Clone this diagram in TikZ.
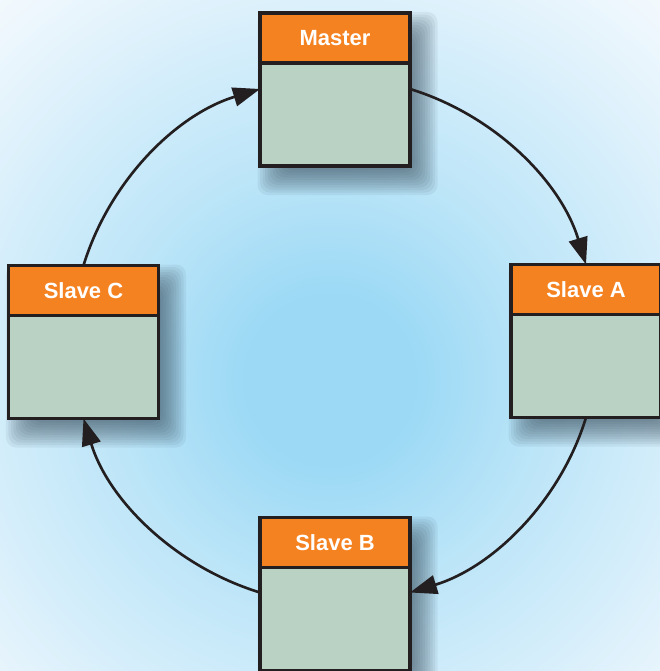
\documentclass[tikz,border=0pt]{standalone}
\usepackage{fontspec}
\setmainfont{Liberation Sans}
\usetikzlibrary{positioning,arrows.meta}

\definecolor{hdorange}{RGB}{245,130,32}
\definecolor{bodygreen}{RGB}{185,210,195}
\definecolor{edge}{RGB}{35,31,32}
\definecolor{shadowc}{RGB}{45,65,80}
\definecolor{skymid}{RGB}{155,217,245}
\definecolor{skylight}{RGB}{188,229,248}
\definecolor{skypale}{RGB}{216,239,251}
\definecolor{skyedge}{RGB}{238,247,253}

\pgfdeclareradialshading{glow}{\pgfpoint{0bp}{0bp}}{%
    color(0bp)=(skymid); color(5.4bp)=(skymid); color(14.3bp)=(skylight);
    color(23.8bp)=(skypale); color(31.3bp)=(skyedge); color(37.8bp)=(white);
    color(50bp)=(white)}

\pgfdeclarelayer{bg}
\pgfsetlayers{bg,main}

\begin{document}
\begin{tikzpicture}[
        box/.style={draw=edge, line width=2pt, minimum width=3cm, outer sep=0pt},
        head/.style={box, fill=hdorange, minimum height=1cm, text=white,
            font=\bfseries\fontsize{12.5}{15}\selectfont},
        body/.style={box, fill=bodygreen, minimum height=2.06cm, below=0pt of #1},
        link/.style={draw=edge, line width=1.5pt, -{Triangle[length=0.54cm,width=0.38cm]}},
        softshadow/.style={shadowc, opacity=0.07, rounded corners=0.2cm}
    ]
        \useasboundingbox (0,0) rectangle (13.2,-13.42);

        % the four units
        \node[head] (master-hd) at (6.7,-0.76) {Master};
        \node[body=master-hd] (master) {};
        \node[head] (slaveA-hd) at (11.72,-5.79) {Slave A};
        \node[body=slaveA-hd] (slaveA) {};
        \node[head] (slaveB-hd) at (6.7,-10.85) {Slave B};
        \node[body=slaveB-hd] (slaveB) {};
        \node[head] (slaveC-hd) at (1.67,-5.81) {Slave C};
        \node[body=slaveC-hd] (slaveC) {};

        % backdrop and shadows
        \begin{pgfonlayer}{bg}
            \shade[shading=glow] (-1,0) rectangle (14.2,-15.2);
            \foreach \u in {master,slaveA,slaveB,slaveC}
                \foreach \t in {0,0.05,...,0.66}
                    \fill[softshadow] ([shift={(0.6-\t,-0.63+\t)}]\u-hd.north west)
                        rectangle ([shift={(-0.1+\t,0.07-\t)}]\u.south east);
        \end{pgfonlayer}

        % ring
        \draw[link] ([yshift=-0.52cm]master.north east)
            to[out=-17,in=107,looseness=0.9] (slaveA-hd.north);
        \draw[link] (slaveA.south)
            to[out=-107,in=17,looseness=0.9] ([yshift=-0.5cm]slaveB.north east);
        \draw[link] ([yshift=-0.5cm]slaveB.north west)
            to[out=163,in=-73,looseness=0.9] (slaveC.south);
        \draw[link] (slaveC-hd.north)
            to[out=73,in=-163,looseness=0.9] ([yshift=-0.52cm]master.north west);
    \end{tikzpicture}
\end{document}
